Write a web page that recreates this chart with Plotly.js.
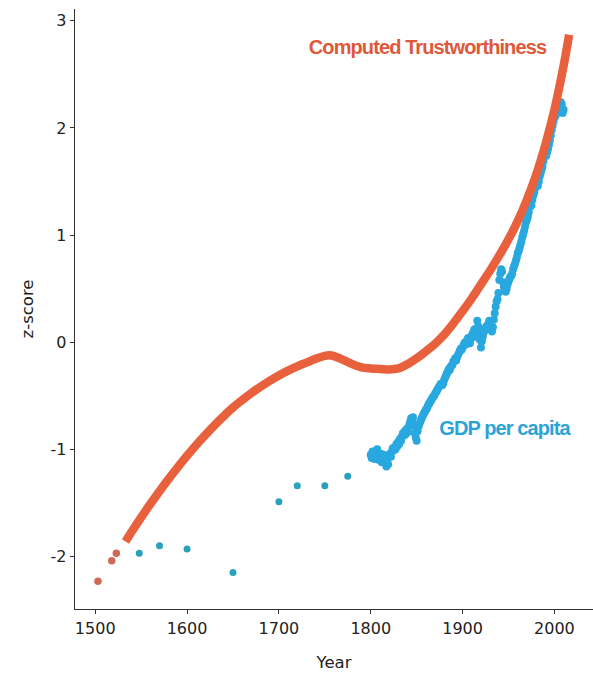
<!DOCTYPE html>
<html>
<head>
<meta charset="utf-8">
<script src="https://cdn.plot.ly/plotly-3.0.1.min.js"></script>
<style>
  html, body { margin: 0; padding: 0; background: #fff; }
  #chart { width: 593px; height: 677px; }
</style>
</head>
<body>
<div id="chart"></div>
<script>
// Computed Trustworthiness: early isolated points and the smooth curve
const trustEarlyYears = [1503, 1518, 1523];
const trustEarlyValues = [-2.23, -2.04, -1.97];
const trustYears = [1533, 1540, 1550, 1560, 1570, 1580, 1590, 1600, 1610, 1620, 1630, 1640, 1650, 1660, 1670, 1680, 1690, 1700, 1710, 1720, 1730, 1740, 1750, 1755, 1760, 1770, 1780, 1790, 1800, 1810, 1820, 1830, 1840, 1850, 1860, 1870, 1880, 1890, 1900, 1910, 1920, 1930, 1940, 1950, 1960, 1970, 1980, 1990, 2000, 2010, 2016];
const trustValues = [-1.86, -1.765, -1.635, -1.51, -1.39, -1.275, -1.165, -1.06, -0.96, -0.865, -0.775, -0.69, -0.61, -0.54, -0.475, -0.415, -0.36, -0.31, -0.265, -0.225, -0.19, -0.155, -0.128, -0.122, -0.13, -0.165, -0.205, -0.235, -0.245, -0.25, -0.255, -0.245, -0.205, -0.15, -0.085, -0.015, 0.07, 0.175, 0.29, 0.41, 0.54, 0.67, 0.81, 0.96, 1.13, 1.33, 1.56, 1.84, 2.17, 2.58, 2.87];

// GDP per capita: sparse early points
const gdpEarlyYears = [1548, 1570, 1600, 1650, 1700, 1720, 1750, 1775];
const gdpEarlyValues = [-1.97, -1.90, -1.93, -2.15, -1.49, -1.34, -1.34, -1.25];

// GDP per capita: annual points 1800-2010
const gdpYears = [];
for (let y = 1800; y <= 2010; y++) gdpYears.push(y);
const gdpValues = [
  -1.05, -1.08, -1.02, -1.04, -1.09, -1.06, -1.03, -1.00, -1.05, -1.10,
  -1.07, -1.04, -1.12, -1.08, -1.05, -1.10, -1.13, -1.16, -1.09, -1.14,
  -1.06, -1.04, -1.07, -1.02, -0.99, -1.01, -0.98, -1.00, -0.95, -0.97,
  -0.93, -0.95, -0.90, -0.92, -0.88, -0.85, -0.87, -0.83, -0.86, -0.81,
  -0.84, -0.80, -0.77, -0.74, -0.71, -0.73, -0.70, -0.78, -0.85, -0.89,
  -0.92, -0.83, -0.79, -0.76, -0.74, -0.72, -0.70, -0.68, -0.66, -0.65,
  -0.63, -0.62, -0.60, -0.58, -0.57, -0.55, -0.54, -0.52, -0.51, -0.50,
  -0.48, -0.47, -0.45, -0.44, -0.42, -0.41, -0.39, -0.40, -0.40, -0.38,
  -0.35, -0.33, -0.31, -0.29, -0.27, -0.25, -0.26, -0.23, -0.22, -0.21,
  -0.18, -0.17, -0.15, -0.17, -0.14, -0.12, -0.10, -0.08, -0.06, -0.07,
  -0.05, -0.03, -0.01, 0.00, -0.02, 0.02, 0.04, 0.03, -0.01, 0.03,
  0.06, 0.08, 0.10, 0.12, 0.05, 0.08, 0.20, 0.15, 0.10, 0.02,
  -0.05, 0.01, 0.05, 0.09, 0.11, 0.13, 0.15, 0.14, 0.17, 0.20,
  0.16, 0.12, 0.10, 0.14, 0.21, 0.27, 0.33, 0.38, 0.40, 0.46,
  0.58, 0.64, 0.68, 0.66, 0.56, 0.52, 0.48, 0.47, 0.50, 0.54,
  0.57, 0.59, 0.61, 0.62, 0.64, 0.68, 0.71, 0.73, 0.76, 0.79,
  0.83, 0.85, 0.88, 0.91, 0.94, 0.98, 1.01, 1.04, 1.08, 1.12,
  1.14, 1.17, 1.21, 1.26, 1.27, 1.28, 1.33, 1.37, 1.40, 1.44,
  1.45, 1.47, 1.46, 1.50, 1.55, 1.58, 1.61, 1.64, 1.69, 1.73,
  1.75, 1.74, 1.77, 1.80, 1.84, 1.88, 1.93, 1.98, 2.02, 2.06,
  2.10, 2.11, 2.13, 2.16, 2.19, 2.21, 2.23, 2.24, 2.22, 2.14,
  2.17
];

const xTicks = [1500, 1600, 1700, 1800, 1900, 2000];
const yTicks = [-2, -1, 0, 1, 2, 3];
const yTickText = ['-2', '-1', '0', '1', '2', '3'];

const RED = '#E8603C';
const BLUE = '#29A8E0';

const traces = [
  {
    x: gdpEarlyYears, y: gdpEarlyValues, type: 'scatter', mode: 'markers',
    marker: { color: '#2AA2BE', size: 7 }, hoverinfo: 'skip'
  },
  {
    x: gdpYears, y: gdpValues, type: 'scatter', mode: 'markers',
    marker: { color: BLUE, size: 8 }, hoverinfo: 'skip'
  },
  {
    x: trustEarlyYears, y: trustEarlyValues, type: 'scatter', mode: 'markers',
    marker: { color: '#D06A58', size: 7.5 }, hoverinfo: 'skip'
  },
  {
    x: trustYears, y: trustValues, type: 'scatter', mode: 'lines',
    line: { color: RED, width: 8.5, shape: 'spline', smoothing: 1 }, hoverinfo: 'skip'
  }
];

const tickFont = { family: 'DejaVu Sans, sans-serif', size: 16, color: '#222' };
const titleFont = { family: 'DejaVu Sans, sans-serif', size: 16.5, color: '#222' };

const layout = {
  width: 593, height: 677,
  margin: { l: 75, r: 0, t: 9, b: 68 },
  paper_bgcolor: '#fff', plot_bgcolor: '#fff',
  showlegend: false,
  xaxis: {
    range: [1478, 2042], tickvals: xTicks, ticktext: xTicks.map(String),
    showgrid: false, zeroline: false, showline: true, linecolor: '#333', linewidth: 1.3,
    ticks: 'outside', ticklen: 4, tickcolor: '#333', tickfont: tickFont,
    title: { text: 'Year', font: titleFont, standoff: 20 },
    automargin: false
  },
  yaxis: {
    range: [-2.49, 3.11], tickvals: yTicks, ticktext: yTickText,
    showgrid: false, zeroline: false, showline: true, linecolor: '#333', linewidth: 1.3,
    ticks: 'outside', ticklen: 4, tickcolor: '#333', tickfont: tickFont,
    title: { text: 'z-score', font: titleFont, standoff: 12 },
    automargin: false
  },
  annotations: [
    {
      x: 1862, y: 2.76, xref: 'x', yref: 'y', showarrow: false,
      text: '<b>Computed Trustworthiness</b>',
      font: { family: 'Liberation Sans, Arial, sans-serif', size: 20, color: '#E0583A' }
    },
    {
      x: 1946.5, y: -0.805, xref: 'x', yref: 'y', showarrow: false,
      text: '<b>GDP per capita</b>',
      font: { family: 'Liberation Sans, Arial, sans-serif', size: 20, color: '#2AA3D8' }
    }
  ]
};

Plotly.newPlot('chart', traces, layout, { displayModeBar: false, staticPlot: true }).then(() => {
  document.querySelectorAll('.annotation-text').forEach(el => { el.style.letterSpacing = '-0.9px'; });
});
</script>
</body>
</html>
